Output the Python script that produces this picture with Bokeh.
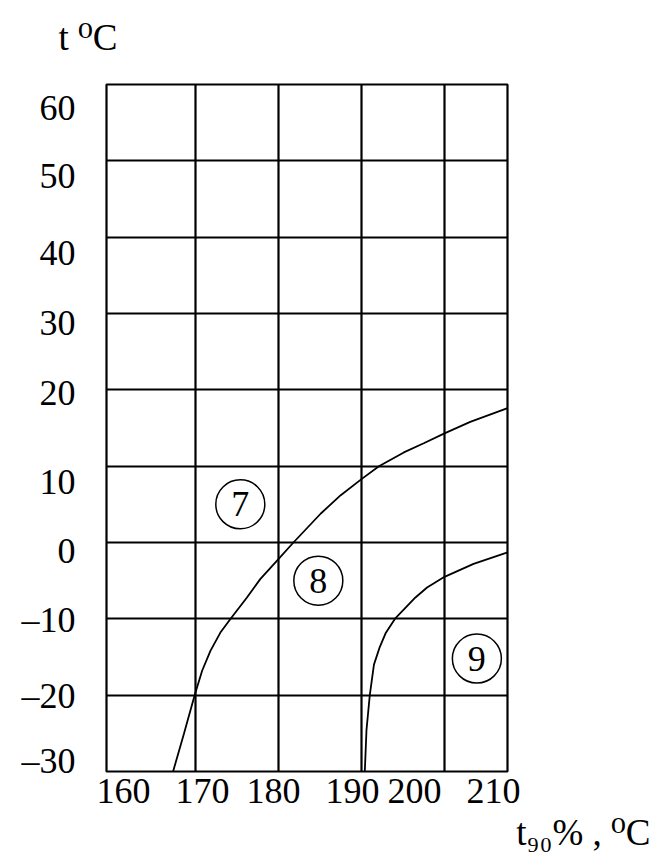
from bokeh.plotting import figure
from bokeh.models import Range1d, FixedTicker, Title
from bokeh.core.properties import value
from bokeh.embed import file_html
from bokeh.resources import INLINE

# ---- data ----
# boundary between regions 7 and 8
curve78_x = [167.3, 168.6, 169.9, 170.8, 171.8, 173.0, 174.3, 176.2, 177.8, 179.8,
             181.8, 185.1, 187.5, 190.0, 192.1, 195.1, 197.5, 200.0, 203.1, 207.6]
curve78_y = [-30.0, -25.1, -20.0, -16.8, -14.2, -11.8, -9.9, -7.2, -4.8, -2.4,
             0.0, 3.8, 6.2, 8.3, 10.0, 11.8, 13.0, 14.3, 15.8, 17.6]
# boundary between regions 8 and 9
curve89_x = [190.4, 190.6, 191.0, 191.5, 192.2, 192.9, 194.1, 196.5, 197.9, 200.0, 203.5, 207.6]
curve89_y = [-30.0, -24.6, -20.0, -16.0, -13.7, -11.9, -9.9, -7.2, -5.9, -4.5, -2.8, -1.3]

# region labels
region_text = ["7", "8", "9"]
region_x = [175.4, 184.8, 203.9]
region_y = [5.0, -5.0, -15.2]

# grid values
x_grid = [170, 180, 190, 200]
y_grid = [-20, -10, 0, 10, 20, 30, 40, 50]

# tick labels (as printed, slightly offset from grid lines in the original)
x_tick_labels = ["160", "170", "180", "190", "200", "210"]
x_tick_pos = [161.33, 170.84, 179.40, 188.92, 196.39, 205.90]
y_tick_labels = ["60", "50", "40", "30", "20", "10", "0", "–10", "–20", "–30"]
y_tick_pos = [56.86, 47.95, 37.99, 28.82, 19.52, 7.99, -1.05, -10.09, -20.05, -28.56]

y_title = "t \u2070C"
x_title = "t\u2089\u2080% , \u2070C"

X_MIN, X_MAX = 159.28, 207.59
Y_MIN, Y_MAX = -30, 60

FONT = "Liberation Serif"
TITLE_FONT = "Liberation Serif, DejaVu Serif"

p = figure(width=651, height=859, output_backend="svg", toolbar_location=None,
           x_range=Range1d(X_MIN, X_MAX), y_range=Range1d(Y_MIN, Y_MAX),
           min_border_left=106, min_border_right=144, min_border_top=84,
           min_border_bottom=88)
p.background_fill_color = "white"
p.border_fill_color = "white"
p.outline_line_color = "black"
p.outline_line_width = 2.2

p.xgrid.ticker = FixedTicker(ticks=x_grid)
p.ygrid.ticker = FixedTicker(ticks=y_grid)
for g in (p.xgrid, p.ygrid):
    g.grid_line_color = "black"
    g.grid_line_width = 2.2
    g.grid_line_alpha = 1.0

p.xaxis.ticker = FixedTicker(ticks=x_tick_pos)
p.xaxis.major_label_overrides = {v: s for v, s in zip(x_tick_pos, x_tick_labels)}
p.yaxis.ticker = FixedTicker(ticks=y_tick_pos)
p.yaxis.major_label_overrides = {v: s for v, s in zip(y_tick_pos, y_tick_labels)}
for ax in (p.xaxis, p.yaxis):
    ax.axis_line_color = None
    ax.major_tick_line_color = None
    ax.minor_tick_line_color = None
    ax.major_label_text_font = FONT
    ax.major_label_text_font_size = "36px"
    ax.major_label_text_color = "black"
p.xaxis.major_label_standoff = 1
p.yaxis.major_label_standoff = 25

p.line(curve78_x, curve78_y, line_color="black", line_width=1.8)
p.line(curve89_x, curve89_y, line_color="black", line_width=1.8)

p.scatter(region_x, region_y, marker="circle", size=49, fill_color=None,
          line_color="black", line_width=1.5)
p.text(region_x, region_y, text=region_text, text_align="center",
       text_baseline="middle", text_font=value(FONT), text_font_size="36px",
       text_color="black")

# y-axis title, top left (a blank spacer title sits between it and the frame)
p.title.text = ""
p.add_layout(Title(text=" ", text_font_size="10px", standoff=12,
                   text_color="white"), "above")
p.add_layout(Title(text=y_title, align="left", vertical_align="top",
                   offset=-48, standoff=0, text_font=TITLE_FONT,
                   text_font_size="37px", text_font_style="normal",
                   text_color="black"), "above")

# x-axis title, bottom right
p.add_layout(Title(text=x_title, align="right", offset=-143, standoff=8,
                   text_font=TITLE_FONT, text_font_size="37px",
                   text_font_style="normal", text_color="black"), "below")

open("out.html", "w").write(file_html(p, INLINE))
